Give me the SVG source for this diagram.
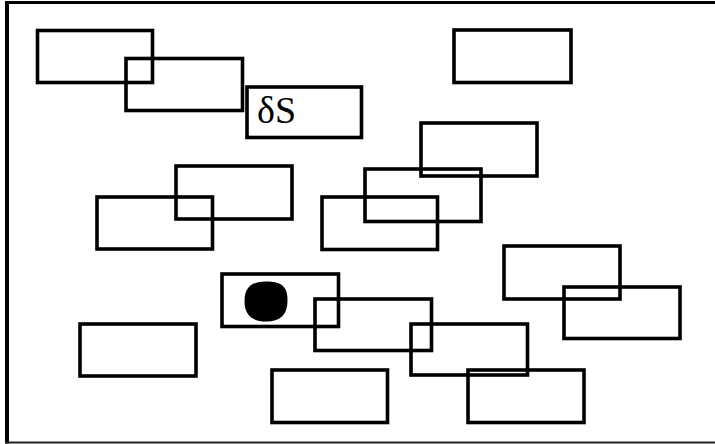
<svg xmlns="http://www.w3.org/2000/svg" width="715" height="444" viewBox="0 0 715 444">
<style>
.b{fill:none;stroke:#000;stroke-width:3.6}
.t{font-family:"Liberation Serif","Times New Roman",serif;font-size:38px;fill:#000}
</style>
<rect width="715" height="444" fill="#fff"/>
<g id="frame" fill="none" stroke="#000">
<line x1="5" y1="2.5" x2="715" y2="2.5" stroke-width="3.2"/>
<line x1="7" y1="1" x2="7" y2="443.5" stroke-width="4"/>
<line x1="5" y1="442.5" x2="715" y2="442.5" stroke-width="1.8" stroke="#222"/>
</g>
<g id="n1"><rect class="b" x="37.5" y="30.5" width="115" height="52"/></g>
<g id="n2"><rect class="b" x="126" y="58.5" width="116.5" height="52"/></g>
<g id="n3"><rect class="b" x="247" y="87" width="114.5" height="50.5"/><text class="t" x="257" y="122.5">δS</text></g>
<g id="n4"><rect class="b" x="454" y="30" width="117" height="52.5"/></g>
<g id="n5"><rect class="b" x="421" y="123" width="116" height="53"/></g>
<g id="n6"><rect class="b" x="365" y="169" width="116" height="52.5"/></g>
<g id="n7"><rect class="b" x="322" y="197" width="115.5" height="52.5"/></g>
<g id="n8"><rect class="b" x="176" y="166" width="116" height="53"/></g>
<g id="n9"><rect class="b" x="97" y="197" width="115.5" height="52"/></g>
<g id="n10"><rect class="b" x="222" y="274" width="116.5" height="52.5"/><path d="M266 281.5 C281 281.5 287.5 286 287.5 300 C287.5 315 280 321.5 266 321.5 C252 321.5 244.5 315 244.5 301 C244.5 288 251 281.5 266 281.5 Z" fill="#000"/></g>
<g id="n11"><rect class="b" x="80" y="324" width="116" height="52"/></g>
<g id="n12"><rect class="b" x="315" y="299" width="116.5" height="51.5"/></g>
<g id="n13"><rect class="b" x="272" y="370" width="115.5" height="52.5"/></g>
<g id="n14"><rect class="b" x="411" y="324" width="116.5" height="51"/></g>
<g id="n15"><rect class="b" x="468" y="370" width="116" height="52.5"/></g>
<g id="n16"><rect class="b" x="504" y="246" width="116" height="53"/></g>
<g id="n17"><rect class="b" x="564" y="287" width="116" height="51.5"/></g>
<g id="connectors"></g>
</svg>
